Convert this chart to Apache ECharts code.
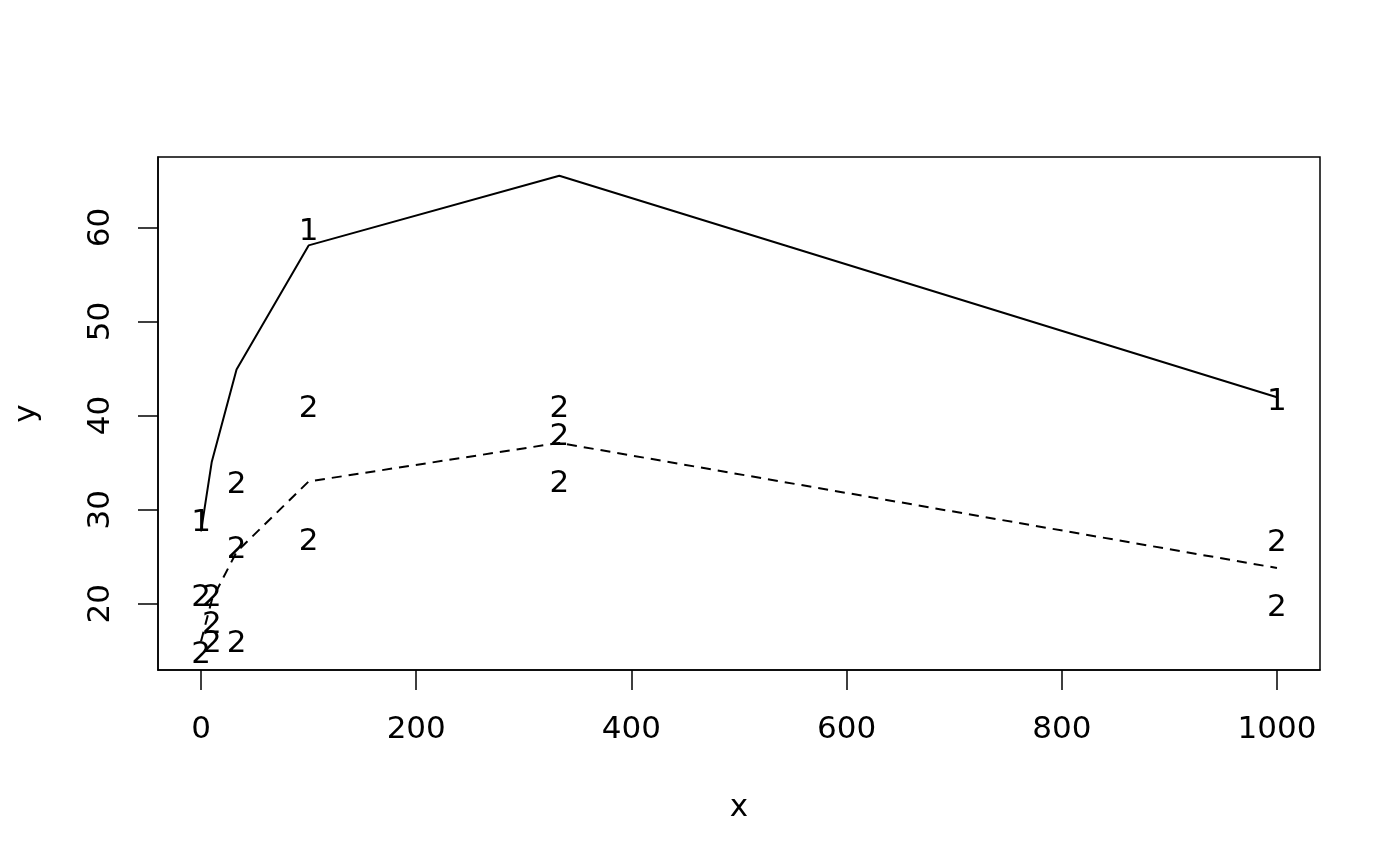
<!DOCTYPE html>
<html>
<head>
<meta charset="utf-8">
<script src="https://cdn.jsdelivr.net/npm/echarts@6/dist/echarts.min.js"></script>
<style>
  html, body { margin: 0; padding: 0; background: #fff; }
  #chart { width: 1400px; height: 866px; }
</style>
</head>
<body>
<div id="chart"></div>
<script>
// fitted curves (solid = group 1, dashed = group 2)
var fitX = [0, 10, 33, 100, 333, 1000];
var fit1Y = [27.7, 35.1, 44.9, 58.1, 65.5, 41.95];
var fit2Y = [16.0, 20.4, 25.5, 33.0, 37.1, 23.8];

// observed points, drawn as their group number
var group1X = [0, 100, 1000];
var group1Y = [28.9, 59.8, 41.8];
var group2X = [0, 10, 100, 33, 33, 333, 333, 333, 100, 1000, 1000, 0, 10, 10, 33];
var group2Y = [20.9, 20.9, 41.0, 32.9, 26.0, 41.0, 38.1, 33.0, 26.9, 26.8, 19.9, 14.9, 18.1, 16.0, 16.0];

var xTicks = [0, 200, 400, 600, 800, 1000];
var yTicks = [20, 30, 40, 50, 60];

function pairs(xs, ys) {
    var out = [];
    for (var i = 0; i < xs.length; i++) {
        out.push([xs[i], ys[i]]);
    }
    return out;
}

var FONT = 'DejaVu Sans';
var fontSize = 31;

function textSeries(name, xs, ys) {
    return {
        name: name,
        type: 'scatter',
        data: pairs(xs, ys),
        symbolSize: 1,
        itemStyle: { color: 'rgba(0,0,0,0)', opacity: 1 },
        silent: true,
        z: 3,
        label: {
            show: true,
            position: 'inside',
            offset: [0, 3],
            formatter: name,
            color: '#000',
            fontFamily: FONT,
            fontSize: fontSize
        }
    };
}

var chart = echarts.init(document.getElementById('chart'));
chart.setOption({
    backgroundColor: '#fff',
    animation: false,
    grid: {
        left: 158,
        right: 80,
        top: 157,
        bottom: 196,
        show: true,
        borderColor: '#000',
        borderWidth: 1.5,
        backgroundColor: 'transparent'
    },
    xAxis: {
        type: 'value',
        min: -40,
        max: 1040,
        name: 'x',
        nameLocation: 'middle',
        nameGap: 122,
        nameTextStyle: { color: '#000', fontFamily: FONT, fontSize: fontSize },
        axisLine: { show: true, onZero: false, lineStyle: { color: '#000', width: 1.5 } },
        axisTick: {
            show: true,
            inside: false,
            length: 20,
            customValues: xTicks,
            lineStyle: { color: '#000', width: 1.5 }
        },
        axisLabel: {
            customValues: xTicks,
            margin: 44,
            color: '#000',
            fontFamily: FONT,
            fontSize: fontSize,
            formatter: function (v) { return String(v); }
        },
        splitLine: { show: false }
    },
    yAxis: {
        type: 'value',
        min: 12.95,
        max: 67.5,
        name: 'y',
        nameLocation: 'middle',
        nameGap: 116,
        nameRotate: 90,
        nameTextStyle: { color: '#000', fontFamily: FONT, fontSize: fontSize },
        axisLine: { show: true, onZero: false, lineStyle: { color: '#000', width: 1.5 } },
        axisTick: {
            show: true,
            inside: false,
            length: 20,
            customValues: yTicks,
            lineStyle: { color: '#000', width: 1.5 }
        },
        axisLabel: {
            customValues: yTicks,
            rotate: 90,
            margin: 42,
            color: '#000',
            fontFamily: FONT,
            fontSize: fontSize,
            formatter: function (v) { return String(v); }
        },
        splitLine: { show: false }
    },
    series: [
        {
            name: 'fit1',
            type: 'line',
            data: pairs(fitX, fit1Y),
            showSymbol: false,
            symbol: 'none',
            lineStyle: { color: '#000', width: 2, type: 'solid' },
            z: 2
        },
        {
            name: 'fit2',
            type: 'line',
            data: pairs(fitX, fit2Y),
            showSymbol: false,
            symbol: 'none',
            lineStyle: { color: '#000', width: 2, type: [10, 7] },
            z: 2
        },
        textSeries('1', group1X, group1Y),
        textSeries('2', group2X, group2Y)
    ]
});
</script>
</body>
</html>
